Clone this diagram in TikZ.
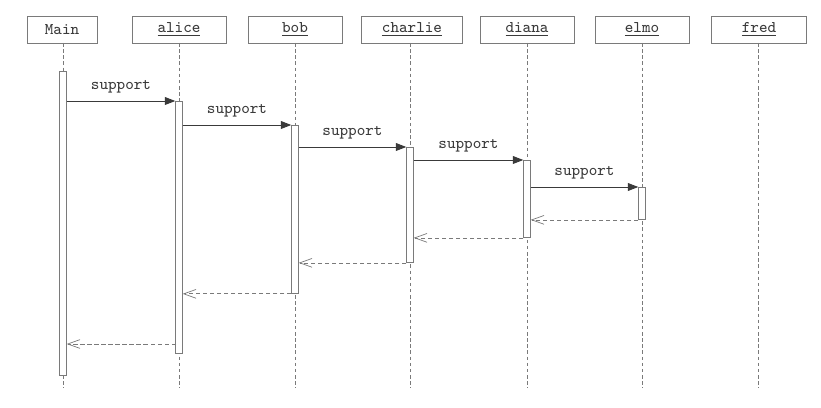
\documentclass[tikz,border=0pt]{standalone}
\usetikzlibrary{arrows.meta}

\definecolor{trait}{HTML}{7A7A7A}
\definecolor{encre}{HTML}{3A3A3A}

\tikzset{
  objet/.style={draw=trait, fill=white, minimum height=0.54cm, inner sep=0pt,
    font=\ttfamily\fontsize{9.3}{11}\selectfont, text=encre},
  vie/.style={draw=trait, dash pattern=on 2pt off 1.5pt, line width=0.35pt},
  activ/.style={draw=trait, fill=white, minimum width=0.13cm, inner sep=0pt,
    anchor=north, line width=0.5pt},
  appel/.style={draw=encre, line width=0.5pt, -{Triangle[length=6pt,width=4.5pt]}},
  retour/.style={draw=trait, dash pattern=on 2.5pt off 1.5pt, line width=0.4pt,
    -{Straight Barb[length=7pt,width=5pt,line width=0.4pt]}},
  msg/.style={font=\ttfamily\fontsize{9.3}{11}\selectfont, text=encre, above=1pt}
}

\begin{document}
\begin{tikzpicture}[x=0.02cm, y=-0.02cm]
\useasboundingbox (0,0) rectangle (821,408);

% Objets
\node[objet, minimum width=1.4cm]  (main)    at (62,29.5)  {Main};
\node[objet, minimum width=1.88cm] (alice)   at (179,29.5) {\underline{alice}};
\node[objet, minimum width=1.88cm] (bob)     at (295,29.5) {\underline{bob}};
\node[objet, minimum width=2.02cm] (charlie) at (412,29.5) {\underline{charlie}};
\node[objet, minimum width=1.88cm] (diana)   at (527,29.5) {\underline{diana}};
\node[objet, minimum width=1.88cm] (elmo)    at (642,29.5) {\underline{elmo}};
\node[objet, minimum width=1.9cm]  (fred)    at (759,29.5) {\underline{fred}};

% Lignes de vie
\foreach \o/\x in {main/63, alice/179, bob/295, charlie/410, diana/527, elmo/642, fred/758} {
  \coordinate (\o-haut) at (\x,43);
  \coordinate (\o-bas) at (\x,388);
  \draw[vie] (\o-haut) -- (\o-bas);
}

% Activations
\node[activ, minimum height=6.08cm] (aMain)    at (63,71)  {};
\node[activ, minimum height=5.04cm] (aAlice)   at (179,101) {};
\node[activ, minimum height=3.36cm] (aBob)     at (295,125) {};
\node[activ, minimum height=2.30cm] (aCharlie) at (410,147) {};
\node[activ, minimum height=1.54cm] (aDiana)   at (527,160) {};
\node[activ, minimum height=0.64cm] (aElmo)    at (642,187) {};

% Appels
\draw[appel] (aMain.east |- aAlice.north) -- (aAlice.north west) node[msg, midway] {support};
\draw[appel] (aAlice.east |- aBob.north) -- (aBob.north west) node[msg, midway] {support};
\draw[appel] (aBob.east |- aCharlie.north) -- (aCharlie.north west) node[msg, midway] {support};
\draw[appel] (aCharlie.east |- aDiana.north) -- (aDiana.north west) node[msg, midway] {support};
\draw[appel] (aDiana.east |- aElmo.north) -- (aElmo.north west) node[msg, midway] {support};

% Retours
\draw[retour] (aElmo.south west) -- (aElmo.south west -| aDiana.east);
\draw[retour] (aDiana.south west) -- (aDiana.south west -| aCharlie.east);
\draw[retour] (aCharlie.south west) -- (aCharlie.south west -| aBob.east);
\draw[retour] (aBob.south west) -- (aBob.south west -| aAlice.east);
\coordinate (finAlice) at (176,344);
\draw[retour] (finAlice) -- (finAlice -| aMain.east);

\end{tikzpicture}
\end{document}
